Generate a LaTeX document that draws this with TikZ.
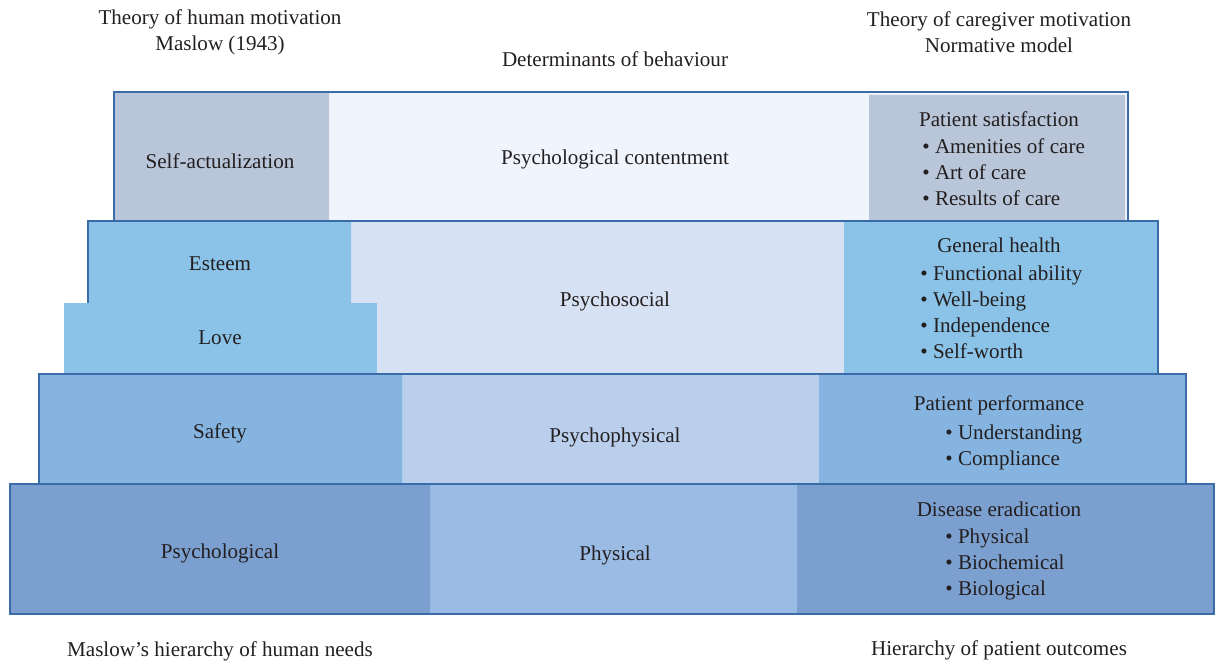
\documentclass[tikz,border=0pt]{standalone}
\usepackage{fontspec}
\setmainfont{Liberation Serif}
\usetikzlibrary{positioning}
\definecolor{edgeblue}{HTML}{3B6CAA}
\definecolor{greytop}{HTML}{B9C6D9}
\definecolor{midtop}{HTML}{F0F4FC}
\definecolor{sidetwo}{HTML}{8BC3E8}
\definecolor{midtwo}{HTML}{D6E2F3}
\definecolor{sidethree}{HTML}{86B4E0}
\definecolor{midthree}{HTML}{B9CFEC}
\definecolor{sidefour}{HTML}{7B9FCE}
\definecolor{midfour}{HTML}{9ABBE4}
\definecolor{ink}{HTML}{231F20}
\tikzset{tier/.style={draw=edgeblue,line width=0.8pt},
lab/.style={inner sep=0pt,text=ink},
list/.style={lab,align=left,anchor=west}}

\begin{document}
\begin{tikzpicture}[x=0.02cm,y=-0.02cm,font=\fontsize{12}{14.8}\selectfont]
\useasboundingbox(0,0)rectangle(1215,661);
% top tier
\fill[midtop](114,92)rectangle(1128,221);
\fill[greytop](114,92)rectangle(329,221)(869,95)rectangle(1125,221);
\draw[tier](114,92)rectangle(1128,221);
% second tier
\fill[midtwo](88,221)rectangle(1158,374);
\fill[sidetwo](88,221)rectangle(351,303)(844,221)rectangle(1158,374);
\draw[tier](88,221)rectangle(1158,374);
\fill[sidetwo](64,303)rectangle(377,374);
% third tier
\fill[midthree](39,374)rectangle(1186,484);
\fill[sidethree](39,374)rectangle(402,484)(819,374)rectangle(1186,484);
\draw[tier](39,374)rectangle(1186,484);
% bottom tier
\fill[midfour](10,484)rectangle(1214,614);
\fill[sidefour](10,484)rectangle(430,614)(797,484)rectangle(1214,614);
\draw[tier](10,484)rectangle(1214,614);
% headings
\node[lab,align=center](human)at(220,32){Theory of human motivation\\Maslow (1943)};
\node[lab,align=center](care)at(999,32){Theory of caregiver motivation\\Normative model};
\node[lab](det)at(615,59){Determinants of behaviour};
\node[lab](needs)at(220,651){Maslow’s hierarchy of human needs};
\node[lab](outc)at(999,650){Hierarchy of patient outcomes};
% left and middle labels
\node[lab](self)at(220,161){Self-actualization};
\node[lab](cont)at(615,159){Psychological contentment};
\node[lab](est)at(220,264){Esteem};
\node[lab](love)at(220,338){Love};
\node[lab](psoc)at(615,301){Psychosocial};
\node[lab](safe)at(220,433){Safety};
\node[lab](pphy)at(615,437){Psychophysical};
\node[lab](psyl)at(220,553){Psychological};
\node[lab](phys)at(615,555){Physical};
% right outcomes
\node[lab](sat)at(999,119){Patient satisfaction};
\node[list](satl)at(922,172){\textbullet\ Amenities of care\\\textbullet\ Art of care\\\textbullet\ Results of care};
\node[lab](gen)at(999,245){General health};
\node[list](genl)at(920,312){\textbullet\ Functional ability\\\textbullet\ Well-being\\\textbullet\ Independence\\\textbullet\ Self-worth};
\node[lab](perf)at(999,405){Patient performance};
\node[list](perfl)at(945,447){\textbullet\ Understanding\\\textbullet\ Compliance};
\node[lab](dis)at(999,509){Disease eradication};
\node[list](disl)at(945,564){\textbullet\ Physical\\\textbullet\ Biochemical\\\textbullet\ Biological};
\end{tikzpicture}
\end{document}
